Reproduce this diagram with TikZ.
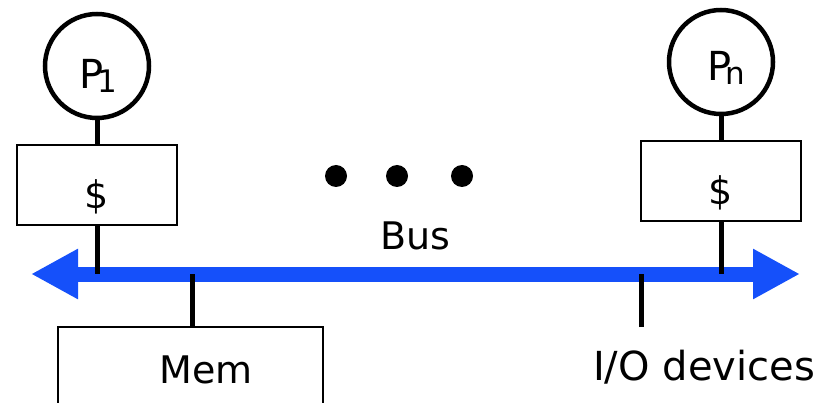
\documentclass[tikz,border=0pt]{standalone}
\usepackage{fontspec}
\setmainfont{DejaVu Sans}
\usetikzlibrary{arrows.meta}
\definecolor{busblue}{HTML}{1550FA}
\begin{document}
\begin{tikzpicture}[x=1pt,y=-1pt,
  proc/.style={circle,draw,line width=4.5pt,minimum size=104pt,inner sep=0pt},
  cachebox/.style={rectangle,draw,line width=1.3pt,minimum width=160pt,minimum height=80pt,inner sep=0pt,font=\fontsize{38}{40}\selectfont},
  devbox/.style={rectangle,draw,line width=1.3pt,inner sep=0pt},
  lbl/.style={inner sep=0pt,font=\fontsize{38}{40}\selectfont},
  plbl/.style={inner sep=0pt,font=\fontsize{40}{42}\selectfont},
  wire/.style={line width=5pt},
  dot/.style={circle,fill,minimum size=22pt,inner sep=0pt}]
\useasboundingbox (0,0) rectangle (829,403);
\clip (0,0) rectangle (829,403);
% processors
\node[proc] (p1) at (97,66) {};
\node[plbl] (p1t) at (98,76) {P\kern-0.15em\raisebox{-0.12em}{\fontsize{31}{31}\selectfont 1}};
\node[proc] (pn) at (721,62) {};
\node[plbl] (pnt) at (726,68) {P\kern-0.15em\raisebox{-0.1em}{\fontsize{31}{31}\selectfont n}};
% caches
\node[cachebox] (c1) at (97,185) {\raisebox{-24pt}[0pt][0pt]{\$}};
\node[cachebox] (cn) at (721,181) {\raisebox{-24pt}[0pt][0pt]{\$}};
% bus
\coordinate (busL) at (31,274);
\coordinate (busR) at (800,274);
\draw[busblue,line width=15pt,{Triangle[length=47pt,width=47pt]}-{Triangle[length=47pt,width=47pt]}] (busL) -- (busR);
\node[lbl] (bus) at (415,236) {Bus};
% dots
\node[dot] (d1) at (336,176) {};
\node[dot] (d2) at (397,176) {};
\node[dot] (d3) at (462,176) {};
% memory
\node[devbox,minimum width=265pt,minimum height=90pt] (mem) at (190.5,372) {};
\node[lbl] (memt) at (206,370) {Mem};
\node[lbl,font=\fontsize{40}{42}\selectfont] (io) at (704,367) {I/O devices};
\coordinate (iotop) at (641,327);
% wires
\draw[wire] (p1.south) -- (c1.north);
\draw[wire] (pn.south) -- (cn.north);
\draw[wire] (c1.south) -- (c1.south |- busL);
\draw[wire] (cn.south) -- (cn.south |- busL);
\draw[wire] (mem.north -| 192,0) -- (192,274);
\draw[wire] (iotop) -- (iotop |- busL);
\end{tikzpicture}
\end{document}
